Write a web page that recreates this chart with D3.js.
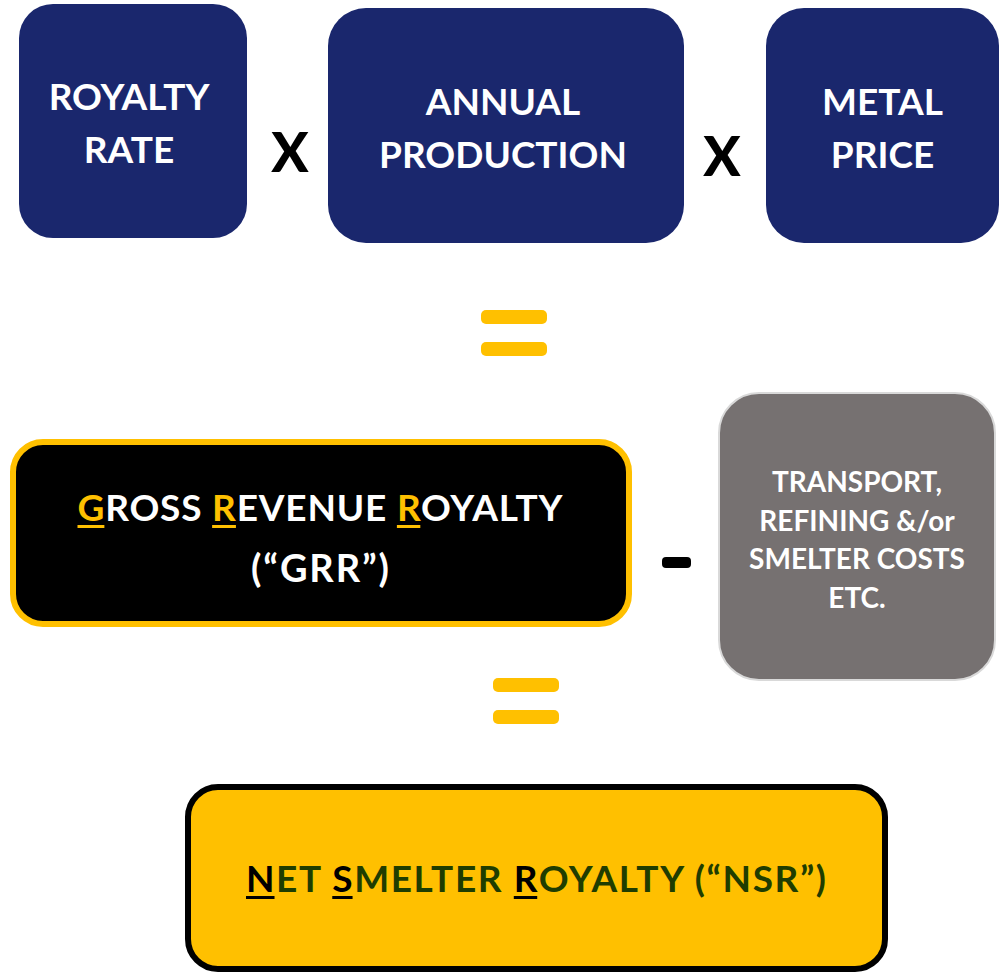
<!DOCTYPE html>
<meta charset="utf-8">
<style>
  body { margin: 0; background: #fff; }
  text { font-family: Lato, "Open Sans", sans-serif; font-weight: 700; }
</style>
<script src="https://d3js.org/d3.v7.min.js"></script>
<div id="my_dataviz"></div>
<script>
  // terms of the formula
  const topTerms = [["ROYALTY", "RATE"], ["ANNUAL", "PRODUCTION"], ["METAL", "PRICE"]];
  const topOps = ["X", "X"];
  const grrLines = ["GROSS REVENUE ROYALTY", "(\u201cGRR\u201d)"];
  const grrMarked = [0, 6, 14];          // letters underlined in line 1
  const costLines = ["TRANSPORT,", "REFINING &/or", "SMELTER COSTS", "ETC."];
  const nsrLine = "NET SMELTER ROYALTY (\u201cNSR\u201d)";
  const nsrMarked = [0, 4, 12];

  var navy = "#1a276d", gold = "#ffc000", grey = "#767171", darkGreen = "#1f3d00";

  var svg = d3.select("#my_dataviz")
    .append("svg")
      .attr("width", 1000)
      .attr("height", 973);

  // top row boxes
  var topBoxes = [
    {x: 19, y: 4, w: 228, h: 234, r: 34, dx: -4},
    {x: 328, y: 8, w: 356, h: 235, r: 38, dx: -3},
    {x: 766, y: 8, w: 233, h: 235, r: 38, dx: 0}
  ];
  topBoxes.forEach(function(b, i) {
    svg.append("rect")
      .attr("x", b.x).attr("y", b.y)
      .attr("width", b.w).attr("height", b.h)
      .attr("rx", b.r)
      .attr("fill", navy);
    var cy = b.y + b.h / 2;
    topTerms[i].forEach(function(t, j) {
      svg.append("text")
        .attr("x", b.x + b.w / 2 + b.dx)
        .attr("y", cy - 11 + j * 53)
        .attr("text-anchor", "middle")
        .attr("fill", "#fff")
        .style("font-size", "37px")
        .text(t);
    });
  });

  // multiply signs
  [{x: 290, y: 172}, {x: 722, y: 176}].forEach(function(p, i) {
    svg.append("text")
      .attr("x", p.x).attr("y", p.y)
      .attr("text-anchor", "middle")
      .attr("fill", "#000")
      .style("font-size", "55px")
      .style("font-weight", 900)
      .text(topOps[i]);
  });

  // equals signs
  function equals(x, y) {
    [0, 32].forEach(function(off) {
      svg.append("rect")
        .attr("x", x).attr("y", y + off)
        .attr("width", 66).attr("height", 14)
        .attr("rx", 5)
        .attr("fill", gold);
    });
  }
  equals(481, 310);
  equals(493, 678);

  // underline some letters of a text element
  function underline(textSel, idx, color, dy) {
    var node = textSel.node();
    var base = +textSel.attr("y");
    idx.forEach(function(k) {
      var e = node.getExtentOfChar(k);
      svg.append("rect")
        .attr("x", e.x).attr("y", base + dy)
        .attr("width", e.width).attr("height", 3)
        .attr("fill", color);
    });
  }

  // colour single letters
  function lettered(sel, str, marked, color, markColor) {
    str.split("").forEach(function(c, k) {
      sel.append("tspan")
        .attr("fill", marked.indexOf(k) >= 0 ? markColor : color)
        .text(c);
    });
  }

  // GRR box
  svg.append("rect")
    .attr("x", 13).attr("y", 442)
    .attr("width", 616).attr("height", 182)
    .attr("rx", 30)
    .attr("fill", "#000")
    .attr("stroke", gold)
    .attr("stroke-width", 6);

  var grr1 = svg.append("text")
    .attr("x", 320).attr("y", 521)
    .attr("text-anchor", "middle")
    .attr("textLength", 485)
    .attr("lengthAdjust", "spacing")
    .style("font-size", "37px");
  lettered(grr1, grrLines[0], grrMarked, "#fff", gold);
  underline(grr1, grrMarked, gold, 4);

  svg.append("text")
    .attr("x", 320).attr("y", 582)
    .attr("text-anchor", "middle")
    .attr("textLength", 138)
    .attr("lengthAdjust", "spacing")
    .attr("fill", "#fff")
    .style("font-size", "38px")
    .text(grrLines[1]);

  // minus sign
  svg.append("rect")
    .attr("x", 662).attr("y", 557)
    .attr("width", 29).attr("height", 11)
    .attr("rx", 4)
    .attr("fill", "#000");

  // costs box
  svg.append("rect")
    .attr("x", 719).attr("y", 393)
    .attr("width", 276).attr("height", 287)
    .attr("rx", 40)
    .attr("fill", grey)
    .attr("stroke", "#d9d9d9")
    .attr("stroke-width", 2);

  costLines.forEach(function(t, j) {
    svg.append("text")
      .attr("x", 857).attr("y", 492 + j * 38.5)
      .attr("text-anchor", "middle")
      .attr("fill", "#fff")
      .style("font-size", "28px")
      .text(t);
  });

  // NSR box
  svg.append("rect")
    .attr("x", 188).attr("y", 787)
    .attr("width", 697).attr("height", 182)
    .attr("rx", 30)
    .attr("fill", gold)
    .attr("stroke", "#000")
    .attr("stroke-width", 6);

  var nsr = svg.append("text")
    .attr("x", 536).attr("y", 892)
    .attr("text-anchor", "middle")
    .attr("textLength", 580)
    .attr("lengthAdjust", "spacing")
    .style("font-size", "37px");
  lettered(nsr, nsrLine, nsrMarked, darkGreen, "#000");
  underline(nsr, nsrMarked, "#000", 4);
</script>
